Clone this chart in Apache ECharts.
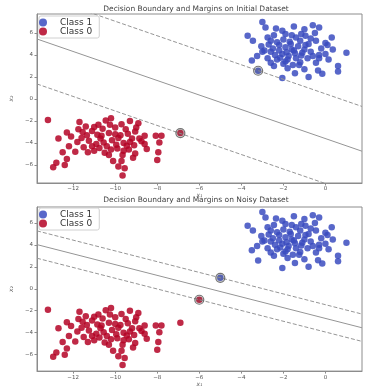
<!DOCTYPE html>
<html><head><meta charset="utf-8">
<script src="https://cdn.jsdelivr.net/npm/echarts@6/dist/echarts.min.js"></script>
<style>html,body{margin:0;padding:0;background:#fff}#c{width:367px;height:388px}</style>
</head><body><div id="c"></div>
<script>
// ---- data ----
const class1X = [-3.0,-2.85,-2.35,-2.05,-1.5,-1.0,-0.6,-0.3,-0.5,-3.7,-3.45,-2.75,-2.45,-1.9,-1.4,-0.95,0.3,0.0,-0.2,0.1,1.0,-3.25,-3.5,-2.6,-2.9,-3.05,-2.7,-2.3,-2.0,-1.7,-1.2,-0.8,-0.45,-2.5,-2.2,-1.9,-1.6,-1.3,-1.0,-0.7,-2.4,-2.05,-1.75,-1.45,-1.15,-0.85,-0.45,0.15,0.6,0.6,-0.15,-0.8,-1.45,-2.05,-1.0,-1.8,-2.3,-1.9,-1.55,-1.2,-0.6,-0.3,-2.6,-1.5,-1.85,-1.1,-1.4,-2.15,-2.75,-3.0,-0.95,-0.3,0.0,-1.65,-2.2,-2.6,-1.15,-0.7,-1.8,-1.25,-2.45,-0.35,0.35,-2.0,-1.6,-3.2];
const class1Y = [7.0,6.5,6.4,6.2,6.6,6.35,6.7,6.5,6.0,5.75,5.3,5.6,5.8,5.9,5.6,5.75,5.6,5.1,4.6,4.9,4.2,3.9,3.5,3.3,4.4,4.8,4.95,5.15,5.4,5.2,5.3,5.0,5.3,4.6,4.4,4.7,4.5,4.8,4.5,4.3,4.0,4.1,3.9,4.15,3.95,3.7,3.3,3.6,3.0,2.5,2.3,2.0,2.35,1.9,2.7,2.8,3.6,3.4,3.1,3.35,3.9,4.0,4.3,4.4,4.25,4.2,3.7,3.75,3.7,4.3,4.9,3.7,4.1,5.0,4.9,5.3,5.9,5.5,3.6,3.1,3.0,2.6,4.5,3.2,5.8,2.57];
const class0X = [-13.2,-11.7,-10.2,-10.45,-9.3,-8.9,-9.7,-10.8,-11.4,-11.75,-12.3,-12.1,-12.7,-11.1,-10.6,-10.0,-9.5,-9.05,-8.6,-8.07,-7.8,-7.9,-8.75,-9.2,-9.75,-10.3,-10.85,-11.35,-11.8,-11.25,-10.7,-10.15,-9.6,-9.1,-8.5,-7.95,-8.0,-9.05,-9.65,-9.7,-9.85,-9.55,-9.65,-10.1,-10.5,-11.0,-11.5,-11.9,-12.5,-12.3,-12.4,-12.8,-12.95,-12.2,-10.4,-9.9,-9.35,-10.9,-11.6,-10.0,-9.4,-10.55,-9.95,-9.3,-8.85,-10.25,-9.0,-11.0,-10.75,-9.6,-10.3,-11.3,-9.15,-8.6,-11.55,-10.65,-9.85,-9.45,-10.2,-11.1,-6.9];
const class0Y = [-1.9,-2.1,-1.75,-1.95,-2.0,-2.2,-2.3,-2.35,-2.5,-2.75,-3.05,-3.4,-3.6,-2.9,-2.7,-2.6,-2.75,-2.95,-3.35,-3.35,-3.35,-3.95,-3.85,-3.6,-3.3,-3.1,-3.25,-3.3,-3.9,-3.8,-3.6,-3.75,-4.0,-4.2,-4.55,-4.85,-5.55,-4.95,-5.1,-5.65,-6.15,-6.3,-6.95,-5.65,-4.9,-4.7,-4.4,-4.8,-4.85,-5.45,-6.0,-5.8,-6.2,-4.3,-4.3,-4.5,-4.6,-4.1,-3.55,-3.2,-3.15,-3.95,-4.15,-3.9,-3.6,-2.35,-2.6,-2.55,-4.45,-4.7,-5.1,-4.85,-5.35,-4.1,-3.0,-3.35,-3.55,-4.25,-4.6,-4.3,-3.1];
// points added in the noisy dataset
const noisyClass1X = [-5.0];
const noisyClass1Y = [1.0];
const noisyClass0X = [-6.0];
const noisyClass0Y = [-1.0];
// support vectors
const initialSVX = [-3.2, -6.9];
const initialSVY = [2.57, -3.1];
const noisySVX = [-5.0, -6.0];
const noisySVY = [1.0, -1.0];
// decision lines y = slope*x + c : [upper margin, boundary, lower margin]
const initialSlope = -0.66;
const initialIntercepts = [0.47, -3.6, -7.69];
const noisySlope = -0.49;
const noisyIntercepts = [-1.45, -2.7, -3.94];
// axes
const xTicks = [-12, -10, -8, -6, -4, -2, 0];
const yTicks = [-6, -4, -2, 0, 2, 4, 6];
const titles = ['Decision Boundary and Margins on Initial Dataset', 'Decision Boundary and Margins on Noisy Dataset'];
const legendNames = ['Class 1', 'Class 0'];

// ---- chart ----
const X_MIN = -13.72, X_MAX = 1.74;
const yRanges = [[-7.64, 7.73], [-7.5, 7.45]];
const pts = (xs, ys) => xs.map((x, i) => [x, ys[i]]);
const fmt = v => String(v).replace('-', '\u2212');
const AX = '#8c8c8c';
const FONT = 'DejaVu Sans';

function xAxis(i) {
  return {
    type: 'value', gridIndex: i, min: X_MIN, max: X_MAX,
    splitLine: {show: false},
    axisLine: {show: true, onZero: false, lineStyle: {color: AX, width: 1}},
    axisTick: {show: true, length: 2.5, customValues: xTicks, lineStyle: {color: AX}},
    axisLabel: {customValues: xTicks, formatter: fmt, fontSize: 5.5, color: '#555', margin: 3, fontFamily: FONT},
    name: 'x\u2081', nameLocation: 'middle', nameGap: 7,
    nameTextStyle: {fontSize: 6, color: '#555', fontStyle: 'italic', fontFamily: FONT}
  };
}
function yAxis(i) {
  return {
    type: 'value', gridIndex: i, min: yRanges[i][0], max: yRanges[i][1],
    splitLine: {show: false},
    axisLine: {show: true, onZero: false, lineStyle: {color: AX, width: 1}},
    axisTick: {show: true, length: 2.5, customValues: yTicks, lineStyle: {color: AX}},
    axisLabel: {customValues: yTicks, formatter: fmt, fontSize: 5.5, color: '#555', margin: 4, fontFamily: FONT},
    name: 'x\u2082', nameLocation: 'middle', nameGap: 20,
    nameTextStyle: {fontSize: 6, color: '#555', fontStyle: 'italic', fontFamily: FONT}
  };
}
function lineSeries(i, slope, intercepts) {
  const styles = ['dashed', 'solid', 'dashed'];
  return intercepts.map((c, k) => ({
    type: 'line', xAxisIndex: i, yAxisIndex: i, silent: true, showSymbol: false, clip: true,
    data: [[X_MIN, slope * X_MIN + c], [X_MAX, slope * X_MAX + c]],
    lineStyle: {color: '#959595', width: 1, type: styles[k] === 'dashed' ? [4, 2] : 'solid'},
    z: 3
  }));
}
function scatter(i, name, data, color) {
  return {
    type: 'scatter', name, xAxisIndex: i, yAxisIndex: i, data, symbolSize: 6.5,
    itemStyle: {color, opacity: 0.85}, z: 2, silent: true
  };
}
function svSeries(i, xs, ys) {
  return {
    type: 'scatter', xAxisIndex: i, yAxisIndex: i, data: pts(xs, ys), symbolSize: 9, silent: true,
    itemStyle: {color: 'rgba(80,80,80,0.25)', borderColor: '#555', borderWidth: 1.2}, z: 4
  };
}
function legend(top) {
  return {
    data: legendNames, orient: 'vertical', left: 39, top,
    icon: 'circle', itemWidth: 24, itemHeight: 8, itemGap: 0,
    padding: [2, 7, 2, 0],
    borderColor: '#d0d0d0', borderWidth: 1, borderRadius: 2, backgroundColor: '#fff',
    textStyle: {fontSize: 9, lineHeight: 8, color: '#333', fontFamily: FONT},
    selectedMode: false
  };
}

const BLUE = '#3b4cc0', RED = '#b40426';
const option = {
  animation: false,
  title: [
    {text: titles[0], left: 196, textAlign: 'center', top: 5, textStyle: {fontSize: 7.5, fontWeight: 'normal', color: '#444', fontFamily: FONT}, padding: 0},
    {text: titles[1], left: 196, textAlign: 'center', top: 196, textStyle: {fontSize: 7.5, fontWeight: 'normal', color: '#444', fontFamily: FONT}, padding: 0}
  ],
  legend: [legend(16), legend(208)],
  grid: [
    {left: 31, right: 5, top: 14, height: 169, show: true, borderColor: AX, borderWidth: 1, backgroundColor: 'transparent'},
    {left: 32, right: 5, top: 207, height: 166, show: true, borderColor: AX, borderWidth: 1, backgroundColor: 'transparent'}
  ],
  xAxis: [xAxis(0), xAxis(1)],
  yAxis: [yAxis(0), yAxis(1)],
  series: [
    scatter(0, 'Class 1', pts(class1X, class1Y), BLUE),
    scatter(0, 'Class 0', pts(class0X, class0Y), RED),
    ...lineSeries(0, initialSlope, initialIntercepts),
    svSeries(0, initialSVX, initialSVY),
    scatter(1, 'Class 1', pts(class1X.concat(noisyClass1X), class1Y.concat(noisyClass1Y)), BLUE),
    scatter(1, 'Class 0', pts(class0X.concat(noisyClass0X), class0Y.concat(noisyClass0Y)), RED),
    ...lineSeries(1, noisySlope, noisyIntercepts),
    svSeries(1, noisySVX, noisySVY)
  ]
};
const chart = echarts.init(document.getElementById('c'), null, {renderer: 'canvas'});
chart.setOption(option);
</script>
</body></html>
